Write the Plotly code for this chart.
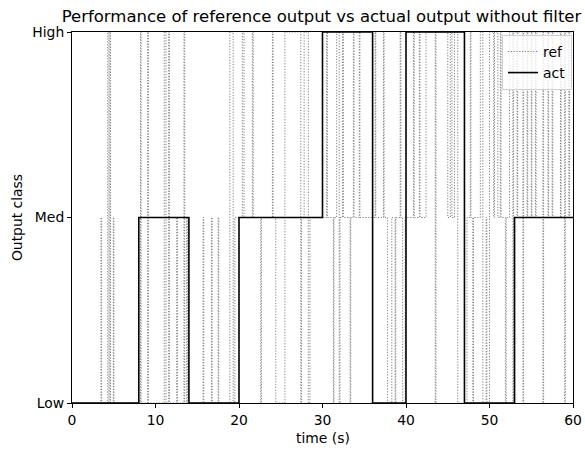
import plotly.graph_objects as go

# ---- data ----
class_labels = ["Low", "Med", "High"]
class_levels = [0, 1, 2]

act_times = [0, 8, 14, 20, 30, 36, 40, 47, 53, 60]
act_values = [0, 1, 0, 1, 2, 0, 2, 0, 1, 1]

ref_times = [
    0, 3.47, 3.55, 4.28, 4.43, 4.55, 4.62, 4.95, 5.02, 8.2, 8.28, 9.07, 9.15,
    11.05, 11.26, 11.58, 11.66, 12.54, 12.62, 13.41, 13.5, 13.74, 13.82,
    15.7, 15.78, 16.7, 16.78, 17.5, 17.58, 18.9, 19.3, 19.5,
    20.4, 20.6, 21.6, 21.7, 22.6, 22.68, 24.0, 24.08, 24.4, 25.5,
    27.4, 27.48, 27.8, 28.3, 28.5, 30.5, 30.58, 31.3, 31.38, 31.7, 32.0, 32.1,
    32.4, 32.5, 33.3, 33.38, 33.7, 33.78, 34.4, 34.48, 36.3, 36.38, 37.3, 37.38,
    37.8, 38.3, 38.7, 38.78, 39.3, 39.38, 39.6, 39.9, 40.9, 40.98, 41.6, 41.68,
    42.4, 43.5, 43.6, 45.0, 45.3, 45.5, 45.8, 46.2, 47.3, 47.7, 47.78, 48.0,
    48.08, 48.9, 49.2, 49.6, 49.68, 50.0, 50.5, 50.6, 51.0, 51.3, 51.38, 51.9,
    52.0, 52.4, 52.8, 52.88, 53.3, 53.38, 54.0, 54.08, 54.5, 54.58, 55.0, 55.08,
    55.5, 55.58, 56.4, 56.48, 57.0, 57.08, 57.5, 57.58, 58.5, 58.58, 59.0, 59.08,
    59.5, 59.58, 60,
]
ref_values = [
    0, 1, 0, 2, 0, 2, 0, 1, 0, 2, 0, 2, 0,
    2, 0, 2, 0, 1, 0, 2, 0, 1, 0,
    1, 0, 1, 0, 1, 0, 2, 0, 1,
    2, 1, 2, 1, 0, 1, 2, 1, 0, 2,
    0, 1, 2, 0, 1, 2, 1, 0, 1, 2, 0, 1,
    2, 1, 0, 1, 2, 1, 2, 1, 2, 1, 2, 1,
    0, 1, 0, 1, 2, 1, 0, 1, 2, 1, 2, 1,
    2, 0, 2, 1, 2, 1, 2, 0, 1, 2, 1, 0,
    1, 2, 0, 1, 0, 2, 1, 2, 1, 2, 1, 0,
    1, 2, 0, 2, 1, 2, 0, 2, 1, 2, 1, 2,
    1, 2, 0, 2, 1, 2, 1, 2, 1, 2, 0, 2,
    1, 2, 2,
]

x_ticks = [0, 10, 20, 30, 40, 50, 60]

FONT = "DejaVu Sans"

W, H = 585, 450
L, R, T, B = 72, 12, 32, 47
PH = H - T - B  # plot height in px

fig = go.Figure()
fig.add_trace(go.Scatter(
    x=ref_times, y=ref_values, mode="lines", name="ref",
    line=dict(color="#7f7f7f", width=1, dash="1.2px,1.6px", shape="hv"),
))
fig.add_trace(go.Scatter(
    x=act_times, y=act_values, mode="lines", name="act",
    line=dict(color="black", width=1.6, shape="hv"),
))

axis_common = dict(
    showline=True, linecolor="black", linewidth=1, mirror=True,
    ticks="outside", ticklen=4, tickwidth=1, tickcolor="black",
    showgrid=False, zeroline=False, automargin=False,
    tickfont=dict(family=FONT, size=13.9, color="black"),
)

fig.update_layout(
    width=W, height=H,
    margin=dict(l=L, r=R, t=T, b=B, autoexpand=False),
    paper_bgcolor="white", plot_bgcolor="white",
    font=dict(family=FONT, size=13.9, color="black"),
    title=dict(
        text="Performance of reference output vs actual output without filter",
        x=(L + (W - R)) / 2 / W - 1 / W, xanchor="center",
        y=1 - 16 / H, yanchor="middle",
        font=dict(family=FONT, size=16.5, color="black"),
        automargin=False,
    ),
    xaxis=dict(range=[0, 60], tickvals=x_ticks, **axis_common),
    yaxis=dict(
        range=[0, 2], tickvals=class_levels, ticktext=class_labels,
        title=dict(text="Output class", font=dict(family=FONT, size=13.9), standoff=6),
        **axis_common,
    ),
    legend=dict(
        x=0.998, y=0.992, xanchor="right", yanchor="top",
        bgcolor="rgba(255,255,255,0.8)", bordercolor="#d0d0d0", borderwidth=1,
        font=dict(family=FONT, size=13.9, color="black"),
        itemwidth=30, tracegroupgap=0,
    ),
    annotations=[dict(
        text="time (s)", xref="paper", yref="paper", x=0.5, y=-35 / PH,
        xanchor="center", yanchor="middle", showarrow=False,
        font=dict(family=FONT, size=13.9, color="black"),
    )],
    showlegend=True,
    hovermode=False,
)

fig.write_html(
    "out.html",
    config={"displayModeBar": False},
    post_script=(
        "document.body.style.margin='0';"
        "document.documentElement.style.overflow='hidden';"
        "document.body.style.overflow='hidden';"
    ),
)
